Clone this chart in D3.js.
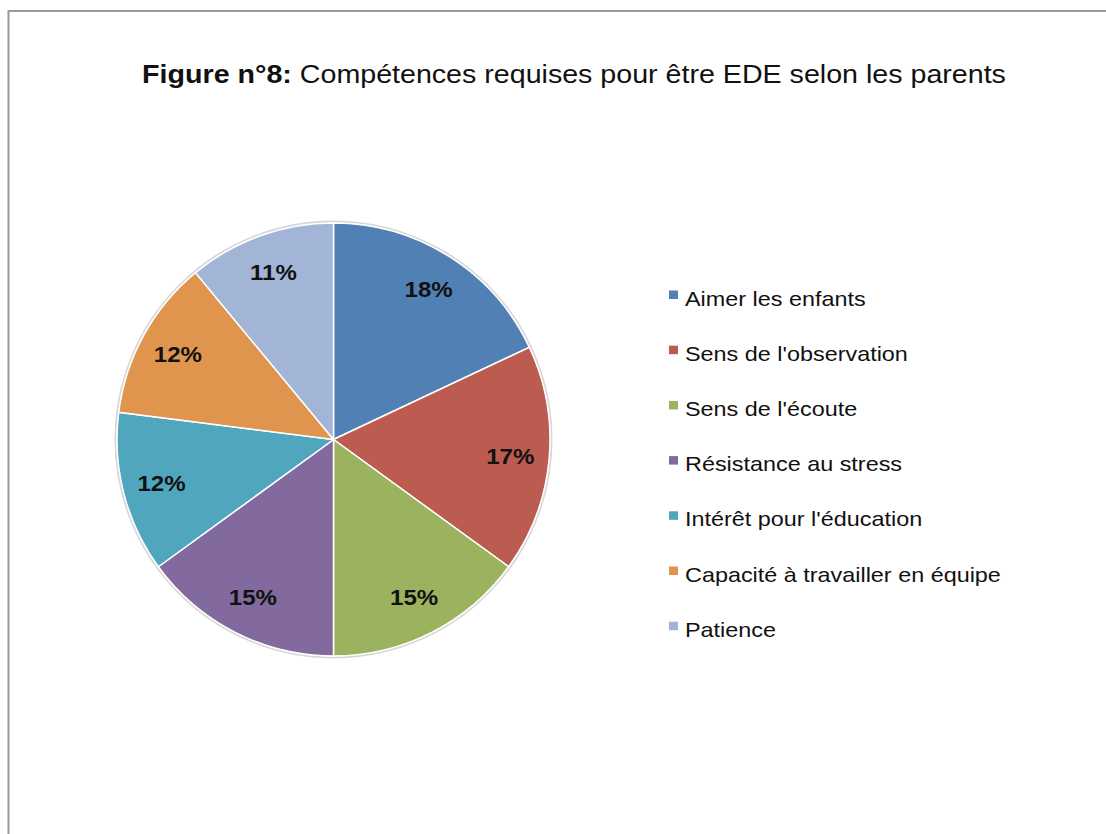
<!DOCTYPE html>
<html>
<head>
<meta charset="utf-8">
<script src="https://cdn.jsdelivr.net/npm/d3@7"></script>
<style>
    body { margin: 0; background: #fff; }
    svg { display: block; font-family: "Liberation Sans", Arial, sans-serif; }
</style>
</head>
<body>
<div id="chart"></div>
<script>

// data
let categories = ["Aimer les enfants", "Sens de l'observation", "Sens de l'écoute",
    "Résistance au stress", "Intérêt pour l'éducation", "Capacité à travailler en équipe", "Patience"];
let values = [18, 17, 15, 15, 12, 12, 11];
let colors = ["#5181B4", "#BC5B50", "#9BB35E", "#826A9E", "#4FA6BD", "#E0954F", "#A3B5D7"];

let width = 1106, height = 834;

// the source picture is a bit wider than tall, so text gets stretched
let stretch = 1.145;

let svg = d3.select("#chart").append("svg")
    .attr("width", width)
    .attr("height", height);

// frame
svg.append("rect")
    .attr("x", 8.5)
    .attr("y", 11)
    .attr("width", width)
    .attr("height", height)
    .attr("fill", "none")
    .attr("stroke", "#9a9a9a")
    .attr("stroke-width", 2);

// title
let title = svg.append("text")
    .attr("transform", `translate(574, 83) scale(${stretch}, 1)`)
    .attr("text-anchor", "middle")
    .attr("font-size", 25)
    .attr("fill", "#111");
title.append("tspan").attr("font-weight", "bold").text("Figure n°8:");
title.append("tspan").text(" Compétences requises pour être EDE selon les parents");

// pie
let cx = 333.5, cy = 439.5, radius = 216.5;

let pie = d3.pie().sort(null).value(d => d.value);
let arc = d3.arc().innerRadius(0).outerRadius(radius);
let labelArc = d3.arc().innerRadius(radius * 0.82).outerRadius(radius * 0.82);

let data = categories.map((c, i) => ({name: c, value: values[i], color: colors[i]}));

let g = svg.append("g").attr("transform", `translate(${cx}, ${cy})`);

// soft outer edge
g.append("circle")
    .attr("r", radius + 1.5)
    .attr("fill", "none")
    .attr("stroke", "#d8d8d8")
    .attr("stroke-width", 2);

g.selectAll(".slice")
    .data(pie(data))
    .enter().append("path")
    .attr("class", "slice")
    .attr("d", arc)
    .attr("fill", d => d.data.color)
    .attr("stroke", "#fff")
    .attr("stroke-width", 1.5);

g.selectAll(".pct")
    .data(pie(data))
    .enter().append("text")
    .attr("class", "pct")
    .attr("transform", d => `translate(${labelArc.centroid(d)}) scale(${stretch - 0.025}, 1)`)
    .attr("text-anchor", "middle")
    .attr("dy", "0.36em")
    .attr("font-size", 21.5)
    .attr("font-weight", "bold")
    .attr("fill", "#111")
    .text(d => d.data.value + "%");

// legend
let legend = svg.append("g").attr("transform", "translate(669, 305.5)");

let rows = legend.selectAll(".row")
    .data(data)
    .enter().append("g")
    .attr("class", "row")
    .attr("transform", (d, i) => `translate(0, ${i * 55.2})`);

rows.append("rect")
    .attr("x", 0)
    .attr("y", -15)
    .attr("width", 9)
    .attr("height", 8.5)
    .attr("fill", d => d.color);

rows.append("text")
    .attr("transform", `translate(16, 0) scale(${stretch + 0.025}, 1)`)
    .attr("font-size", 20)
    .attr("fill", "#111")
    .text(d => d.name);

</script>
</body>
</html>
